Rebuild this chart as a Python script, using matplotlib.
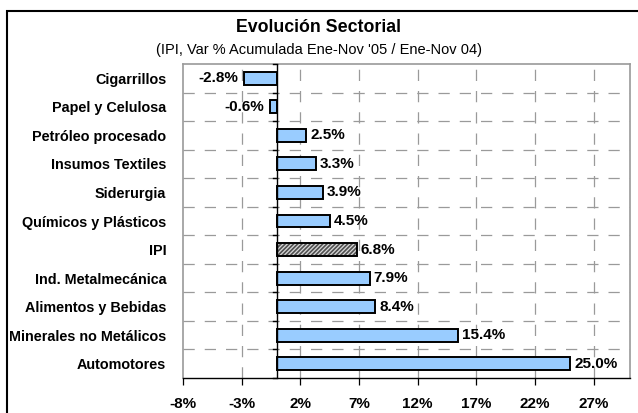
#!/usr/bin/env python3
"""Evolución Sectorial - IPI horizontal bar chart."""
import matplotlib

matplotlib.use("Agg")
import matplotlib.pyplot as plt
from matplotlib.patches import Rectangle
import numpy as np

plt.rcParams["font.family"] = ["Liberation Sans", "DejaVu Sans"]

SECTORES = [
    "Cigarrillos",
    "Papel y Celulosa",
    "Petróleo procesado",
    "Insumos Textiles",
    "Siderurgia",
    "Químicos y Plásticos",
    "IPI",
    "Ind. Metalmecánica",
    "Alimentos y Bebidas",
    "Minerales no Metálicos",
    "Automotores",
]
VAR = [-2.8, -0.6, 2.5, 3.3, 3.9, 4.5, 6.8, 7.9, 8.4, 15.4, 25.0]
XTICKS = [-8, -3, 2, 7, 12, 17, 22, 27]
XTICK_LABELS = ["-8%", "-3%", "2%", "7%", "12%", "17%", "22%", "27%"]

BLUE = "#99CCFF"
GRID = "#9a9a9a"


def main():
    fig = plt.figure(figsize=(6.38, 4.13), dpi=100)
    ax = fig.add_axes([183 / 638, 1 - 378 / 413, (630 - 183) / 638, (378 - 64) / 413])

    n = len(SECTORES)
    y = np.arange(n)
    ax.set_ylim(n - 0.5, -0.5)
    ax.set_xlim(-8, 30.1)

    # dashed grid
    for xt in XTICKS[1:]:
        ax.axvline(xt, color=GRID, lw=0.9, dashes=(9, 8), zorder=0)
    for b in np.arange(n - 1) + 0.5:
        ax.axhline(b, color=GRID, lw=0.9, dashes=(9, 8), zorder=0)

    plt.rcParams["hatch.linewidth"] = 1.2
    for i, (name, v) in enumerate(zip(SECTORES, VAR)):
        if name == "IPI":
            ax.barh(i, v, height=0.45, color="#d8d8d8", hatch="////////",
                    edgecolor="#505050", lw=0, zorder=2)
            ax.barh(i, v, height=0.45, fill=False, edgecolor="black", lw=1.4, zorder=3)
        else:
            ax.barh(i, v, height=0.45, color=BLUE, edgecolor="black", lw=1.4, zorder=3)
        txt = f"{v:.1f}%"
        if v < 0:
            ax.annotate(txt, (v, i), xytext=(-4, 0), textcoords="offset points",
                        ha="right", va="center", fontsize=11, fontweight="bold")
        else:
            ax.annotate(txt, (v, i), xytext=(3, 0), textcoords="offset points",
                        ha="left", va="center", fontsize=11, fontweight="bold")

    # zero axis with small ticks at category boundaries
    ax.axvline(0, color="black", lw=1.0, zorder=4)
    for b in np.arange(n + 1) - 0.5:
        ax.plot([0, -0.35], [b, b], color="black", lw=1.0, zorder=4, clip_on=False)

    ax.set_yticks(y)
    ax.set_yticklabels(SECTORES, fontsize=10.4, fontweight="bold")
    ax.tick_params(axis="y", length=0, pad=12)
    ax.set_xticks(XTICKS)
    ax.set_xticklabels(XTICK_LABELS, fontsize=11, fontweight="bold")
    ax.tick_params(axis="x", direction="out", length=5, width=0.9, pad=9, color="black")

    for side in ["top", "right", "left"]:
        ax.spines[side].set_color(GRID)
        ax.spines[side].set_linewidth(1.2)
    ax.spines["bottom"].set_color("black")
    ax.spines["bottom"].set_linewidth(1.0)

    fig.text(0.5, 1 - 32 / 413, "Evolución Sectorial", ha="center", va="baseline",
             fontsize=12.8, fontweight="bold")
    fig.text(0.5, 1 - 54 / 413, "(IPI, Var % Acumulada Ene-Nov '05 / Ene-Nov 04)",
             ha="center", va="baseline", fontsize=10.5)

    fig.patches.append(Rectangle((7 / 638, -0.05), 1.0, 1.05 - 11 / 413,
                                 transform=fig.transFigure, fill=False,
                                 edgecolor="black", lw=1.5))

    fig.savefig("out.png", dpi=100)
    plt.close(fig)


if __name__ == "__main__":
    main()
